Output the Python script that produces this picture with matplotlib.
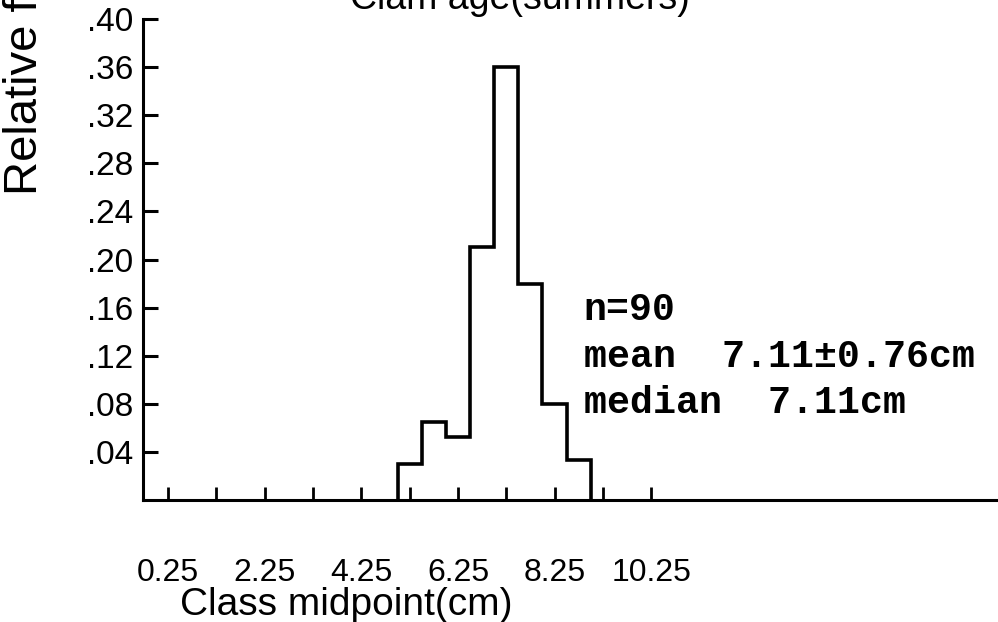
import matplotlib
matplotlib.use('Agg')
import matplotlib.pyplot as plt

# ---- data ----
bin_edges = [5.0, 5.5, 6.0, 6.5, 7.0, 7.5, 8.0, 8.5, 9.0]
rel_freq = [0.030, 0.065, 0.052, 0.210, 0.360, 0.180, 0.080, 0.033]
x_ticks = [0.25, 1.25, 2.25, 3.25, 4.25, 5.25, 6.25, 7.25, 8.25, 9.25, 10.25]
x_tick_labels = ['0.25', '', '2.25', '', '4.25', '', '6.25', '', '8.25', '', '10.25']
y_ticks = [0.04, 0.08, 0.12, 0.16, 0.20, 0.24, 0.28, 0.32, 0.36, 0.40]
y_tick_labels = ['.04', '.08', '.12', '.16', '.20', '.24', '.28', '.32', '.36', '.40']
title = 'Clam age(summers)'
ylabel = 'Relative frequency'
xlabel = 'Class midpoint(cm)'
stats_lines = ['n=90', 'mean  7.11\u00b10.76cm', 'median  7.11cm']

W, H = 998, 622
plt.rcParams['font.family'] = ['Liberation Sans', 'DejaVu Sans']

fig = plt.figure(figsize=(W / 100, H / 100), dpi=100)
ax = fig.add_axes([143 / W, (H - 500) / H, (W - 143) / W, 481 / H])

ax.stairs(rel_freq, bin_edges, color='black', lw=2.6, baseline=0)

ax.set_xlim(-0.27, 17.43)
ax.set_ylim(0, 0.40)

for s in ['top', 'right']:
    ax.spines[s].set_visible(False)
for s in ['left', 'bottom']:
    ax.spines[s].set_linewidth(2.2)
    ax.spines[s].set_color('black')

ax.set_xticks(x_ticks)
ax.set_xticklabels(x_tick_labels)
ax.set_yticks(y_ticks)
ax.set_yticklabels(y_tick_labels)
ax.tick_params(axis='y', direction='in', length=11, width=2.2, pad=7, labelsize=24)
ax.tick_params(axis='x', direction='in', length=9.5, width=2.0, pad=42, labelsize=23)

# stats annotation
y0 = 0.150
dy = 0.039
for i, line in enumerate(stats_lines):
    ax.text(8.85, y0 - i * dy, line, fontsize=27.5, fontweight='bold',
            family=['Liberation Mono', 'DejaVu Sans Mono'], va='baseline', ha='left')

# labels
fig.text(180 / W, (H - 615) / H, xlabel, fontsize=28, ha='left', va='baseline')
fig.text(25 / W, (H - 195) / H, ylabel, fontsize=34, rotation=90, ha='center', va='bottom')
fig.text(350 / W, (H - 9) / H, title, fontsize=27, ha='left', va='baseline')

fig.savefig('out.png', dpi=100)
